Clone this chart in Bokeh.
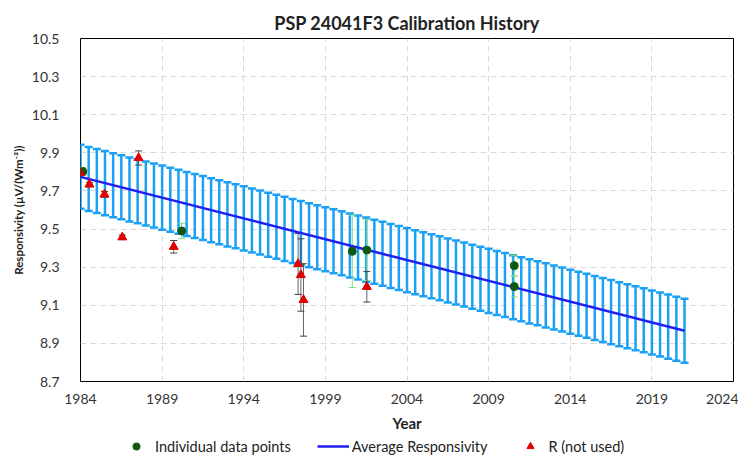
from bokeh.plotting import figure
from bokeh.layouts import column
from bokeh.models import (ColumnDataSource, Whisker, TeeHead, FixedTicker, Legend,
                          LegendItem, Range1d, NumeralTickFormatter)
from bokeh.embed import file_html
from bokeh.resources import INLINE

# ---- data ----
# average responsivity line (linear fit endpoints)
avg_years = [1984.0, 2021.0]
avg_values = [9.774, 8.966]

# uncertainty bars along the average line (every half year)
band_years = [1984.0, 1984.5, 1985.0, 1985.5, 1986.0, 1986.5, 1987.0, 1987.5, 1988.0, 1988.5,
              1989.0, 1989.5, 1990.0, 1990.5, 1991.0, 1991.5, 1992.0, 1992.5, 1993.0, 1993.5,
              1994.0, 1994.5, 1995.0, 1995.5, 1996.0, 1996.5, 1997.0, 1997.5, 1998.0, 1998.5,
              1999.0, 1999.5, 2000.0, 2000.5, 2001.0, 2001.5, 2002.0, 2002.5, 2003.0, 2003.5,
              2004.0, 2004.5, 2005.0, 2005.5, 2006.0, 2006.5, 2007.0, 2007.5, 2008.0, 2008.5,
              2009.0, 2009.5, 2010.0, 2010.5, 2011.0, 2011.5, 2012.0, 2012.5, 2013.0, 2013.5,
              2014.0, 2014.5, 2015.0, 2015.5, 2016.0, 2016.5, 2017.0, 2017.5, 2018.0, 2018.5,
              2019.0, 2019.5, 2020.0, 2020.5, 2021.0]
band_values = [9.774, 9.763, 9.752, 9.741, 9.730, 9.719, 9.708, 9.698, 9.687, 9.676,
               9.665, 9.654, 9.643, 9.632, 9.621, 9.610, 9.599, 9.588, 9.577, 9.567,
               9.556, 9.545, 9.534, 9.523, 9.512, 9.501, 9.490, 9.479, 9.468, 9.457,
               9.446, 9.436, 9.425, 9.414, 9.403, 9.392, 9.381, 9.370, 9.359, 9.348,
               9.337, 9.326, 9.315, 9.305, 9.294, 9.283, 9.272, 9.261, 9.250, 9.239,
               9.228, 9.217, 9.206, 9.195, 9.184, 9.173, 9.163, 9.152, 9.141, 9.130,
               9.119, 9.108, 9.097, 9.086, 9.075, 9.064, 9.053, 9.042, 9.032, 9.021,
               9.010, 8.999, 8.988, 8.977, 8.966]
band_uncert = 0.168

# individual data points
pt_years = [1984.14, 1990.2, 2000.65, 2001.54, 2010.57, 2010.57]
pt_values = [9.802, 9.490, 9.383, 9.390, 9.308, 9.198]
pt_err = [0.02, 0.04, 0.19, 0.16, 0.055, 0.055]

# R (not used)
r_years = [1983.98, 1984.55, 1985.47, 1986.56, 1987.56, 1989.71, 1997.33, 1997.5, 1997.66, 2001.54]
r_values = [9.795, 9.734, 9.682, 9.457, 9.873, 9.407, 9.317, 9.259, 9.128, 9.197]
r_err = [0.01, 0.01, 0.015, 0.012, 0.037, 0.033, 0.16, 0.19, 0.19, 0.08]

x_ticks = [1984, 1989, 1994, 1999, 2004, 2009, 2014, 2019, 2024]
y_ticks = [8.7, 8.9, 9.1, 9.3, 9.5, 9.7, 9.9, 10.1, 10.3, 10.5]

FONT = "Lato"
GREEN = "#0E5A14"
BLUE_LINE = "#1F1FF0"
RED = "#E00000"

p = figure(width=738, height=434, output_backend="svg", toolbar_location=None,
           x_range=Range1d(1984, 2024), y_range=Range1d(8.7, 10.5),
           title="PSP 24041F3 Calibration History")
p.min_border_left = 80
p.min_border_right = 5
p.min_border_top = 38
p.min_border_bottom = 52
p.background_fill_color = "white"
p.border_fill_color = "white"
p.outline_line_color = "black"
p.outline_line_width = 1

p.title.align = "center"
p.title.text_font = FONT
p.title.text_font_size = "18px"
p.title.text_font_style = "bold"
p.title.text_color = "#222222"
p.title.standoff = 9

for ax in (p.xaxis[0], p.yaxis[0]):
    ax.major_tick_line_color = None
    ax.minor_tick_line_color = None
    ax.axis_line_color = None
    ax.major_label_text_font = FONT
    ax.major_label_text_font_size = "14px"
    ax.major_label_text_color = "#333333"
    ax.axis_label_text_font = FONT
    ax.axis_label_text_font_style = "bold"
    ax.axis_label_text_color = "#222222"

p.xaxis[0].ticker = FixedTicker(ticks=x_ticks)
p.yaxis[0].ticker = FixedTicker(ticks=y_ticks)
p.yaxis[0].formatter = NumeralTickFormatter(format="0.0")
p.xaxis[0].axis_label = "Year"
p.yaxis[0].axis_label = "Responsivity (µV/(Wm⁻²))"
p.xaxis[0].axis_label_text_font_size = "15px"
p.yaxis[0].axis_label_text_font_size = "11.5px"
p.xaxis[0].major_label_standoff = 6
p.yaxis[0].major_label_standoff = 15
p.xaxis[0].axis_label_standoff = 7
p.yaxis[0].axis_label_standoff = 4

for g in (p.xgrid[0], p.ygrid[0]):
    g.grid_line_color = "#D9D9D9"
    g.grid_line_dash = "6 4"
    g.grid_line_width = 1

# uncertainty band bars
band_src = ColumnDataSource(dict(x=band_years, y=band_values,
                                 up=[v + band_uncert for v in band_values],
                                 lo=[v - band_uncert for v in band_values]))
bc = "#1AA0F5"
p.add_layout(Whisker(source=band_src, base="x", upper="up", lower="lo", dimension="height",
                     line_color=bc, line_width=2.5,
                     upper_head=TeeHead(size=8, line_color=bc, line_width=2.5),
                     lower_head=TeeHead(size=8, line_color=bc, line_width=2.5)))

p.line(avg_years, avg_values, line_color=BLUE_LINE, line_width=2.5)

# individual data points
pt_src = ColumnDataSource(dict(x=pt_years, y=pt_values,
                               up=[v + e for v, e in zip(pt_values, pt_err)],
                               lo=[v - e for v, e in zip(pt_values, pt_err)]))
gc = "#7FE07F"
p.add_layout(Whisker(source=pt_src, base="x", upper="up", lower="lo", dimension="height",
                     line_color=gc, line_width=1,
                     upper_head=TeeHead(size=7, line_color=gc, line_width=1),
                     lower_head=TeeHead(size=7, line_color=gc, line_width=1)))
p.scatter("x", "y", source=pt_src, marker="circle", size=8,
          fill_color=GREEN, line_color=GREEN)

# R (not used)
r_src = ColumnDataSource(dict(x=r_years, y=r_values,
                              up=[v + e for v, e in zip(r_values, r_err)],
                              lo=[v - e for v, e in zip(r_values, r_err)]))
kc = "#404040"
p.add_layout(Whisker(source=r_src, base="x", upper="up", lower="lo", dimension="height",
                     line_color=kc, line_width=1, line_alpha=0.8,
                     upper_head=TeeHead(size=7, line_color=kc, line_width=1),
                     lower_head=TeeHead(size=7, line_color=kc, line_width=1)))
p.scatter("x", "y", source=r_src, marker="triangle", size=9,
          fill_color=RED, line_color=RED)

# ---- legend strip below the chart (proxy glyphs placed outside its visible range) ----
leg = figure(width=738, height=22, output_backend="svg", toolbar_location=None,
             x_axis_location=None, y_axis_location=None,
             x_range=Range1d(0, 1), y_range=Range1d(0, 1))
leg.min_border_left = 80
leg.min_border_right = 5
leg.min_border_top = 0
leg.min_border_bottom = 0
leg.outline_line_color = None
leg.xgrid.visible = False
leg.ygrid.visible = False
proxy = ColumnDataSource(dict(x=[-5.0, -4.0], y=[-5.0, -4.0]))
lg_pt = leg.scatter("x", "y", source=proxy, marker="circle", size=8,
                    fill_color=GREEN, line_color=GREEN)
lg_avg = leg.line("x", "y", source=proxy, line_color=BLUE_LINE, line_width=2.5)
lg_r = leg.scatter("x", "y", source=proxy, marker="triangle", size=9,
                   fill_color=RED, line_color=RED)

legend = Legend(items=[LegendItem(label="Individual data points", renderers=[lg_pt]),
                       LegendItem(label="Average Responsivity", renderers=[lg_avg]),
                       LegendItem(label="R (not used)", renderers=[lg_r])],
                orientation="horizontal", location=(40, 1))
legend.border_line_color = None
legend.background_fill_alpha = 0
legend.label_text_font = FONT
legend.label_text_font_size = "14.5px"
legend.label_text_color = "#222222"
legend.glyph_width = 32
legend.glyph_height = 18
legend.label_standoff = 3
legend.spacing = 26
legend.padding = 1
legend.margin = 0
leg.add_layout(legend, "center")

layout = column(p, leg, spacing=0)
open("out.html", "w").write(file_html(layout, INLINE))
